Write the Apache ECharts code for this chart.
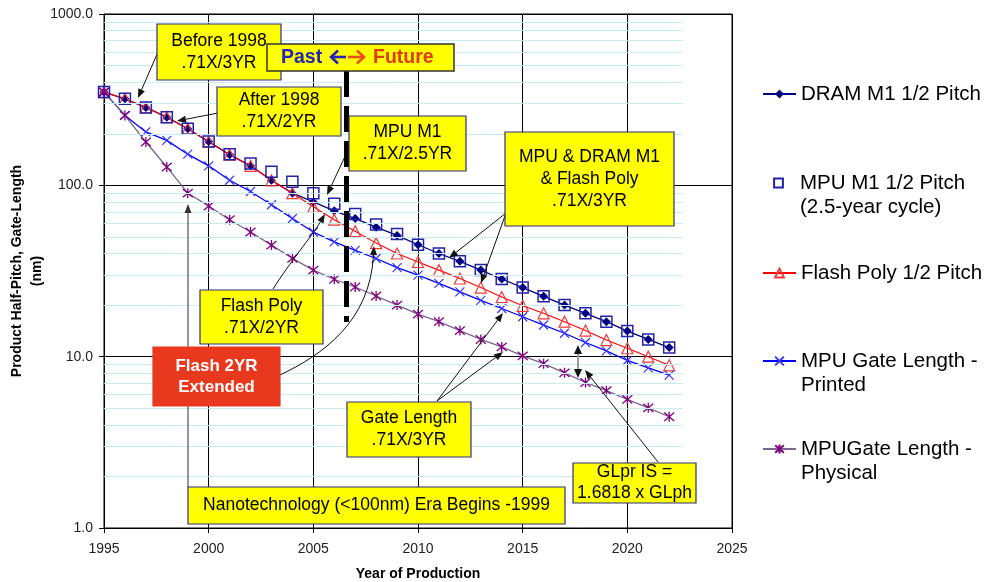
<!DOCTYPE html>
<html><head><meta charset="utf-8">
<script src="https://cdn.jsdelivr.net/npm/echarts@6/dist/echarts.min.js"></script>
<style>html,body{margin:0;padding:0;background:#fff}#c{width:987px;height:582px}</style>
</head><body><div id="c"></div>
<script>
const FONT = 'Arial, "Liberation Sans", sans-serif';
const years = [1995,1996,1997,1998,1999,2000,2001,2002,2003,2004,2005,2006,2007,2008,2009,2010,2011,2012,2013,2014,2015,2016,2017,2018,2019,2020,2021,2022];
const dramM1 = [350,320,285,250,214,180,151,130,107,90,80,71,64,57,51,45,40,36,32,28.4,25.3,22.5,20,17.9,16,14.1,12.6,11.3];
const mpuM1 = [350,320,285,250,214,180,152,134,120,105,90,78,68,59,52,45,40,36,32,28.4,25.3,22.5,20,17.9,16,14.1,12.6,11.3];
const flashPoly = [350,320,285,250,214,180,151,130,107,90,75,63,54,46,40,35.7,32,28.6,25.3,22.3,19.8,17.9,16,14.2,12.5,11.2,10,8.9];
const gatePrinted = [350,256,205,183,152,130,107,92,77,64,53.4,46.8,41.7,37.4,33.1,29.9,26.8,23.9,21.3,19.1,17.1,15.3,13.7,12.1,10.8,9.5,8.6,7.8];
const gatePhysical = [350,256,179,128,90,75.7,63,53.4,44.8,37.5,32,28.3,25.5,22.6,20,17.7,16,14.2,12.6,11.4,10.1,9.1,8.05,7.07,6.33,5.63,5.03,4.46];
const seriesNames = ['DRAM M1 1/2 Pitch','MPU M1 1/2 Pitch\n(2.5-year cycle)','Flash Poly 1/2 Pitch','MPU Gate Length -\nPrinted','MPUGate Length -\nPhysical'];
const minorLevels = [2,3,4,5,6,7,8,9,20,30,40,50,60,70,80,90,200,300,400,500,600,700,800,900];
const xTickMin = 1995, xTickMax = 2025, xTickStep = 5;

const pairs = v => years.map((y,i)=>[y,v[i]]);
const X_PATH = 'path://M0,0L10,10M10,0L0,10';
const STAR_PATH = 'path://M0,0L10,10M10,0L0,10M5,-1L5,11';

function arrow(x1,y1,x2,y2,color,lw){
  color = color||'#111'; lw = lw||1;
  const a = Math.atan2(y2-y1,x2-x1), L=9, W=3.5;
  const bx = x2-L*Math.cos(a), by = y2-L*Math.sin(a);
  const px = -Math.sin(a)*W, py = Math.cos(a)*W;
  return [
    {type:'line', z:100, shape:{x1,y1,x2:bx,y2:by}, style:{stroke:color,lineWidth:lw}},
    {type:'polygon', z:100, shape:{points:[[x2,y2],[bx+px,by+py],[bx-px,by-py]]}, style:{fill:color}}
  ];
}
function curveArrow(x1,y1,c1x,c1y,c2x,c2y,x2,y2,color){
  color = color||'#111';
  const a = Math.atan2(y2-c2y,x2-c2x), L=9, W=3.5;
  const bx = x2-L*Math.cos(a), by = y2-L*Math.sin(a);
  const px = -Math.sin(a)*W, py = Math.cos(a)*W;
  return [
    {type:'bezierCurve', z:100, shape:{x1,y1,cpx1:c1x,cpy1:c1y,cpx2:c2x,cpy2:c2y,x2:bx,y2:by}, style:{stroke:color,lineWidth:1,fill:null}},
    {type:'polygon', z:100, shape:{points:[[x2,y2],[bx+px,by+py],[bx-px,by-py]]}, style:{fill:color}}
  ];
}
function box(x,y,w,h,text,opts){
  opts = opts||{};
  return [
    {type:'rect', z:110, shape:{x,y,width:w,height:h}, style:{fill:opts.fill||'#ffff00', stroke:opts.stroke||'#2e2e80', lineWidth:1.2}},
    {type:'text', z:111, style:{text, x:x+w/2+(opts.dx||0), y:y+h/2+(opts.dy||0), align:'center', verticalAlign:'middle', fontSize:opts.fontSize||17.5, fontWeight:opts.bold?'bold':'normal', fontFamily:FONT, fill:opts.color||'#000', lineHeight:opts.lh||22}}
  ];
}
function chevArrow(x1,x2,y,color){
  const d = x2 > x1 ? 1 : -1;
  return [
    {type:'line', z:122, shape:{x1,y1:y,x2,y2:y}, style:{stroke:color,lineWidth:2.6}},
    {type:'polyline', z:122, shape:{points:[[x2-d*7,y-6.5],[x2,y],[x2-d*7,y+6.5]]}, style:{stroke:color,lineWidth:2.6,fill:null}}
  ];
}

const graphics = [].concat(
  [{type:'line', z:90, shape:{x1:346.5,y1:71,x2:346.5,y2:322}, style:{stroke:'#000',lineWidth:5,lineDash:[26,9]}}],
  arrow(158,52,138,98),
  arrow(218,113,177,121),
  arrow(348,150,327,195),
  arrow(506,213,449,258),
  arrow(506,213,481,283),
  arrow(437,401,503,313),
  arrow(437,401,503,352),
  arrow(658,462,585,370),
  arrow(188,487,188,204,'#333'),
  curveArrow(273,289,290,262,312,236,325,214),
  curveArrow(280,375,322,355,370,322,374,246),
  [{type:'line', z:100, shape:{x1:578,y1:352,x2:578,y2:371}, style:{stroke:'#999',lineWidth:2}},
   {type:'polygon', z:100, shape:{points:[[578,345],[574,354],[582,354]]}, style:{fill:'#111'}},
   {type:'polygon', z:100, shape:{points:[[578,378],[574,369],[582,369]]}, style:{fill:'#111'}}],
  box(157,24,124,56,'Before 1998\n.71X/3YR'),
  box(217,87,124,49,'After 1998\n.71X/2YR'),
  box(349,116,117,55,'MPU M1\n.71X/2.5YR'),
  box(505,132,169,94,'MPU & DRAM M1\n& Flash Poly\n.71X/3YR'),
  box(200,290,123,54,'Flash Poly\n.71X/2YR'),
  box(153,347,127,59,'Flash 2YR\nExtended',{fill:'#e8381e',stroke:'#e8381e',color:'#fff',bold:true,fontSize:17,lh:21}),
  box(347,402,124,55,'Gate Length\n.71X/3YR'),
  box(573,463,123,40,'GLpr IS =\n1.6818 x GLph',{lh:21}),
  box(188,487,377,37,'Nanotechnology (<100nm) Era Begins -1999'),
  [{type:'rect', z:120, shape:{x:267,y:44,width:187,height:27}, style:{fill:'#ffff00',stroke:'#333',lineWidth:1.5}},
   {type:'text', z:121, style:{text:'Past', x:281, y:58, align:'left', verticalAlign:'middle', fill:'#2424b4', fontSize:19.5, fontWeight:'bold', fontFamily:FONT}},
   {type:'text', z:121, style:{text:'Future', x:373, y:58, align:'left', verticalAlign:'middle', fill:'#e03a10', fontSize:19.5, fontWeight:'bold', fontFamily:FONT}}],
  chevArrow(346,331,57,'#2424b4'),
  chevArrow(348,364,57,'#e8501a')
);

const legendCommon = {orient:'vertical', left:762, padding:0, itemWidth:33, itemHeight:11, itemGap:0, selectedMode:false,
  textStyle:{fontSize:20.5, fontFamily:FONT, color:'#000', lineHeight:24}};
const legendTops = [82,147,261,325,413];

const chart = echarts.init(document.getElementById('c'), null, {renderer:'canvas'});
chart.setOption({
  animation:false,
  backgroundColor:'#fff',
  textStyle:{fontFamily:FONT},
  grid:{left:104, right:255, top:14, bottom:54, containLabel:false, outerBoundsMode:'none', show:true, borderColor:'#000', borderWidth:1, backgroundColor:'transparent'},
  legend: seriesNames.map((n,i)=>Object.assign({}, legendCommon, {data:[n], top:legendTops[i], formatter: n.indexOf('\n')>=0 ? (s=>'\n'+s) : (s=>s)})),
  xAxis:{type:'value', min:xTickMin, max:xTickMax, interval:xTickStep,
    name:'Year of Production', nameLocation:'middle', nameGap:39, nameMoveOverlap:false,
    nameTextStyle:{fontSize:14, fontWeight:'bold', color:'#000', fontFamily:FONT},
    axisLine:{lineStyle:{color:'#000',width:1}}, axisTick:{show:true, inside:false, length:5, lineStyle:{color:'#000'}},
    axisLabel:{fontSize:14, color:'#222', margin:14, formatter:v=>String(v)},
    splitLine:{show:true, lineStyle:{color:'#000', width:1}}},
  yAxis:{type:'log', logBase:10, min:1, max:1000,
    name:'Product Half-Pitch, Gate-Length\n(nm)', nameLocation:'middle', nameGap:57, nameMoveOverlap:false,
    nameTextStyle:{fontSize:14, fontWeight:'bold', color:'#000', fontFamily:FONT, lineHeight:20},
    axisLine:{lineStyle:{color:'#000',width:1}}, axisTick:{show:true, length:5, lineStyle:{color:'#000'}},
    axisLabel:{fontSize:14, color:'#222', margin:11, formatter:v=>Number(v).toFixed(1)},
    splitLine:{show:true, lineStyle:{color:'#000', width:1}}, minorTick:{show:false}, minorSplitLine:{show:false}},
  graphic: graphics,
  series:[
    {type:'line', name:'_minor', data:[], silent:true, z:1, symbol:'none',
      markLine:{silent:true, symbol:['none','none'], label:{show:false}, animation:false,
        lineStyle:{color:'#c6eef2', width:1, type:'solid'},
        data: minorLevels.map(v=>[{coord:[1995,v]},{coord:[2022.65,v]}])}},
    {type:'line', name:seriesNames[0], data:pairs(dramM1), z:3,
      symbol:'diamond', symbolSize:9, lineStyle:{color:'#000080', width:1.3},
      itemStyle:{color:'#000080'}},
    {type:'line', name:seriesNames[1], data:pairs(mpuM1), z:4,
      symbol:'rect', symbolSize:11, lineStyle:{width:0, opacity:0},
      itemStyle:{color:'transparent', borderColor:'#2222a8', borderWidth:1.5}},
    {type:'line', name:seriesNames[2], data:pairs(flashPoly), z:3,
      symbol:'triangle', symbolSize:11, lineStyle:{color:'#ff0000', width:1.1},
      itemStyle:{color:'transparent', borderColor:'#f23a3a', borderWidth:1.2}},
    {type:'line', name:seriesNames[3], data:pairs(gatePrinted), z:3,
      symbol:X_PATH, symbolSize:9, lineStyle:{color:'#0000ff', width:1.3},
      itemStyle:{color:'none', borderColor:'#3535ff', borderWidth:1.2}},
    {type:'line', name:seriesNames[4], data:pairs(gatePhysical), z:3,
      symbol:STAR_PATH, symbolSize:10, lineStyle:{color:'#7a6690', width:1.3},
      itemStyle:{color:'none', borderColor:'#800080', borderWidth:1.3}}
  ]
});
</script></body></html>
